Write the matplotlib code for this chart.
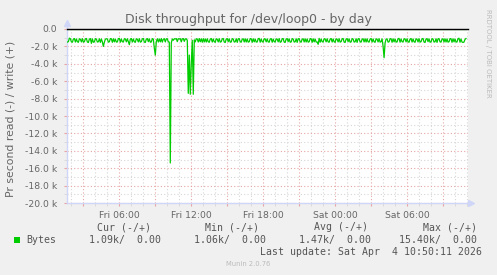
import matplotlib
matplotlib.use("Agg")
import matplotlib.pyplot as plt
import matplotlib.dates as mdates
from matplotlib.ticker import MultipleLocator, FuncFormatter
from matplotlib.patches import Rectangle
import numpy as np
from datetime import datetime, timedelta

# ---------------- data ----------------
title = "Disk throughput for /dev/loop0 - by day"
y_label = "Pr second read (-) / write (+)"
series_name = "Bytes"
start_time = datetime(2026, 4, 3, 1, 40)   # first 5-minute sample (Fri)
step_minutes = 5
view_start = datetime(2026, 4, 3, 1, 38)
view_end = datetime(2026, 4, 4, 11, 5)

# read throughput in kB/s (plotted as negative), one value per 5 minutes
read_k = [
    1.50, 1.45, 1.05, 1.12, 1.48, 1.52, 1.15, 1.10, 1.50, 1.14, 1.47, 1.53, 1.12, 1.18, 1.49, 1.11, 1.51, 1.46, 1.13, 1.09,
    1.50, 1.55, 1.16, 1.10, 1.65, 1.13, 1.52, 1.49, 1.11, 1.15, 1.50, 1.47, 1.12, 1.54, 1.14, 1.48, 2.00, 1.51, 1.17, 1.12,
    1.14, 1.51, 1.47, 1.10, 1.13, 1.53, 1.12, 1.48, 1.16, 1.50, 1.49, 1.11, 1.08, 1.52, 1.15, 1.46, 1.50, 1.12, 1.14, 1.48,
    1.12, 1.48, 1.80, 1.15, 1.10, 1.50, 1.14, 1.47, 1.53, 1.12, 1.18, 1.49, 1.11, 1.51, 1.46, 1.13, 1.09, 1.50, 1.55, 1.16,
    1.10, 1.46, 1.13, 1.52, 1.49, 1.11, 1.15, 2.20, 3.00, 1.45, 1.12, 1.50, 1.14, 1.48, 1.10, 1.51, 1.17, 1.12, 1.49, 1.13,
    1.12, 1.48, 1.50, 15.40, 1.60, 1.14, 1.30, 1.12, 1.15, 1.10, 1.45, 1.12, 1.14, 1.11, 1.48, 1.13, 1.10, 1.42, 1.15, 1.12,
    1.30, 7.40, 3.00, 7.50, 4.00, 1.30, 7.50, 1.25, 1.48, 1.12, 1.15, 1.50, 1.10, 1.47, 1.13, 1.52, 1.11, 1.49, 1.14, 1.50,
    1.12, 1.48, 1.52, 1.15, 1.10, 1.50, 1.14, 1.47, 1.53, 1.12, 1.18, 1.49, 1.11, 1.51, 1.46, 1.13, 1.09, 1.50, 1.55, 1.16,
    1.10, 1.46, 1.13, 1.52, 1.49, 1.11, 1.15, 1.50, 1.47, 1.12, 1.54, 1.14, 1.10, 1.48, 1.51, 1.17, 1.12, 1.49, 1.13, 1.50,
    1.14, 1.51, 1.47, 1.10, 1.13, 1.53, 1.12, 1.48, 1.16, 1.50, 1.49, 1.11, 1.08, 1.52, 1.15, 1.46, 1.50, 1.12, 1.14, 1.48,
    1.13, 1.49, 1.51, 1.14, 1.11, 1.52, 1.15, 1.46, 1.50, 1.13, 1.17, 1.48, 1.10, 1.53, 1.47, 1.12, 1.10, 1.51, 1.54, 1.15,
    1.10, 1.46, 1.13, 1.52, 1.49, 1.11, 1.15, 1.50, 1.47, 1.12, 1.54, 1.14, 1.10, 1.48, 1.51, 1.17, 1.12, 1.49, 1.13, 1.50,
    1.14, 1.51, 1.47, 1.10, 1.13, 1.53, 1.12, 1.48, 1.16, 1.50, 1.49, 1.76, 1.08, 1.52, 1.15, 1.46, 1.50, 1.12, 1.14, 1.48,
    1.12, 1.48, 1.52, 1.15, 1.10, 1.50, 1.14, 1.47, 1.53, 1.12, 1.18, 1.49, 1.11, 1.51, 1.46, 1.13, 1.09, 1.50, 1.55, 1.16,
    1.10, 1.46, 1.13, 1.52, 1.49, 1.11, 1.15, 1.50, 1.47, 1.12, 1.54, 1.14, 1.10, 1.48, 1.51, 1.17, 1.12, 1.49, 1.13, 1.50,
    1.12, 1.48, 1.50, 1.15, 1.10, 1.50, 1.14, 1.47, 1.53, 1.12, 1.18, 1.49, 1.11, 1.51, 1.46, 1.13, 2.00, 3.30, 1.60, 1.16,
    1.14, 1.51, 1.47, 1.10, 1.13, 1.53, 1.12, 1.48, 1.16, 1.50, 1.49, 1.11, 1.08, 1.52, 1.15, 1.46, 1.50, 1.12, 1.14, 1.48,
    1.12, 1.48, 1.52, 1.15, 1.10, 1.50, 1.14, 1.47, 1.53, 1.12, 1.18, 1.49, 1.11, 1.51, 1.46, 1.13, 1.09, 1.50, 1.55, 1.16,
    1.10, 1.46, 1.13, 1.52, 1.49, 1.11, 1.15, 1.50, 1.47, 1.12, 1.54, 1.14, 1.10, 1.48, 1.51, 1.17, 1.12, 1.49, 1.13, 1.50,
    1.14, 1.51, 1.47, 1.10, 1.13, 1.53, 1.12, 1.48, 1.16, 1.50, 1.49, 1.11, 1.06, 1.52, 1.15, 1.50, 1.55, 1.50, 1.20, 1.09,
]
write_k = [0.0] * len(read_k)

stat_headers = ["Cur (-/+)", "Min (-/+)", "Avg (-/+)", "Max (-/+)"]
read_stats = ["1.09k", "1.06k", "1.47k", "15.40k"]
write_stats = ["0.00", "0.00", "0.00", "0.00"]
last_update = "Last update: Sat Apr  4 10:50:11 2026"
footer = "Munin 2.0.76"
side_text = "RRDTOOL / TOBI OETIKER"

# ---------------- figure ----------------
W, H = 497, 275
BG = "#F0F0F0"
FONT = "#666666"
AXIS = "#CFD6F8"
GREEN = "#00CC00"
MGRID = "#E8A4A4"
GRID = "#D6D6D6"

fig = plt.figure(figsize=(W / 100, H / 100), dpi=100, facecolor=BG)


def fx(x):
    return x / W


def fy(y):
    return 1 - y / H


ax = fig.add_axes([fx(67), fy(203), 401 / W, 174 / H])
ax.set_facecolor("white")

times = [start_time + timedelta(minutes=step_minutes * i) for i in range(len(read_k))]
ax.plot(times, write_k, color=GREEN, lw=0.9, zorder=3)
ax.plot(times, -np.array(read_k), color=GREEN, lw=0.9, zorder=4)
ax.axhline(0, color="black", lw=1.0, zorder=6, clip_on=False)

ax.set_xlim(view_start, view_end)
ax.set_ylim(-20, 0)

ax.xaxis.set_major_locator(mdates.HourLocator(byhour=range(0, 24, 3)))
ax.xaxis.set_minor_locator(mdates.HourLocator())


def xfmt(v, pos):
    d = mdates.num2date(v)
    if d.hour % 6 == 0 and d.minute == 0:
        return d.strftime("%a %H:%M")
    return ""


ax.xaxis.set_major_formatter(FuncFormatter(xfmt))
ax.yaxis.set_major_locator(MultipleLocator(2))
ax.yaxis.set_minor_locator(MultipleLocator(1))
ax.yaxis.set_major_formatter(FuncFormatter(lambda v, p: "0.0" if abs(v) < 1e-9 else f"{v:.1f} k"))

ax.set_axisbelow(True)
ax.grid(which="minor", color=GRID, linestyle=(0, (1, 2)), lw=0.8)
ax.grid(which="major", color=MGRID, linestyle=(0, (1, 2)), lw=0.8)

for s in ["top", "right"]:
    ax.spines[s].set_visible(False)
for s in ["left", "bottom"]:
    ax.spines[s].set_color(AXIS)
    ax.spines[s].set_linewidth(1.0)

ax.tick_params(axis="x", which="major", length=2.5, color=MGRID, labelsize=6.7,
               labelcolor=FONT, pad=3)
ax.tick_params(axis="x", which="minor", length=2, color=GRID)
ax.tick_params(axis="y", which="major", length=2.5, color=MGRID, labelsize=6.7,
               labelcolor=FONT, pad=4.5)
ax.tick_params(axis="y", which="minor", length=2, color=GRID)

# axis arrows
ax.plot([0, 0], [1.0, 1.03], color=AXIS, lw=1.0, transform=ax.transAxes, clip_on=False)
ax.plot([0], [1.035], marker="^", ms=4, color=AXIS, transform=ax.transAxes, clip_on=False)
ax.plot([1.0, 1.004], [0, 0], color=AXIS, lw=1.0, transform=ax.transAxes, clip_on=False)
ax.plot([1.008], [0], marker=">", ms=4, color=AXIS, transform=ax.transAxes, clip_on=False)

# texts
fig.text(fx(248), fy(19), title, ha="center", va="center", fontsize=9.0, color=FONT)
fig.text(fx(11), fy(118.5), y_label, ha="center", va="center", rotation=90,
         fontsize=7.8, color=FONT)
fig.text(fx(488), fy(53), side_text, ha="center", va="center", rotation=270,
         fontsize=5, color="#BBBBBB")

mono = dict(family="DejaVu Sans Mono", fontsize=7.1, color="#555555", va="center")
header_right = [151, 259, 368, 477]
value_right = [161, 266, 371, 477]
for hdr, xr in zip(stat_headers, header_right):
    fig.text(fx(xr), fy(227), hdr, ha="right", **mono)
fig.patches.append(Rectangle((fx(14), fy(243)), 6 / W, 6 / H, transform=fig.transFigure,
                             facecolor=GREEN, edgecolor="none"))
fig.text(fx(26), fy(240), series_name, ha="left", **mono)
for r, w, xr in zip(read_stats, write_stats, value_right):
    fig.text(fx(xr), fy(240), f"{r}/  {w}", ha="right", **mono)
fig.text(fx(482), fy(252), last_update, ha="right", **mono)
fig.text(fx(248), fy(264), footer, ha="center", va="center", fontsize=4.9, color="#BBBBBB")

fig.savefig("out.png", dpi=100, facecolor=BG)
